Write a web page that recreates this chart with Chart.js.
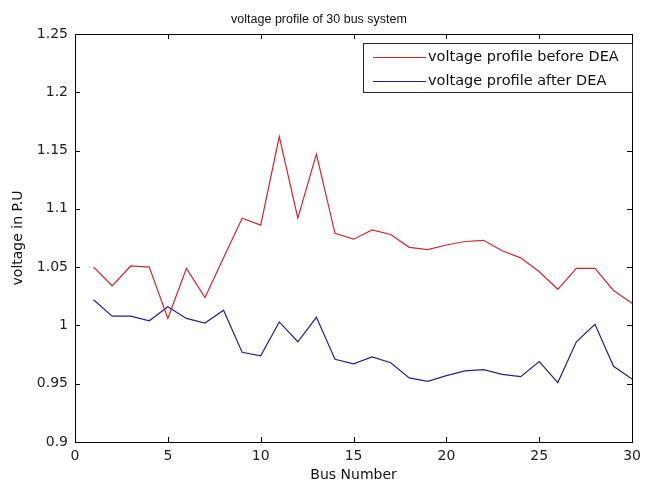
<!DOCTYPE html>
<html>
<head>
<meta charset="utf-8">
<script src="https://cdn.jsdelivr.net/npm/chart.js@4.4.0/dist/chart.umd.min.js"></script>
<style>
  html, body { margin: 0; padding: 0; background: #fff; }
  #wrap { width: 647px; height: 483px; }
</style>
</head>
<body>
<div id="wrap"><canvas id="chart" width="647" height="483"></canvas></div>
<script>
const busNumbers = [1, 2, 3, 4, 5, 6, 7, 8, 9, 10, 11, 12, 13, 14, 15, 16, 17, 18, 19, 20, 21, 22, 23, 24, 25, 26, 27, 28, 29, 30];
const beforeDEA = [1.050, 1.034, 1.051, 1.050, 1.006, 1.049, 1.024, 1.058, 1.092, 1.086, 1.162, 1.092, 1.147, 1.079, 1.074, 1.082, 1.078, 1.067, 1.065, 1.069, 1.072, 1.073, 1.064, 1.058, 1.046, 1.031, 1.049, 1.049, 1.030, 1.019];
const afterDEA = [1.022, 1.008, 1.008, 1.004, 1.016, 1.006, 1.002, 1.013, 0.977, 0.974, 1.003, 0.986, 1.007, 0.971, 0.967, 0.973, 0.968, 0.955, 0.952, 0.957, 0.961, 0.962, 0.958, 0.956, 0.969, 0.951, 0.986, 1.001, 0.965, 0.954];
const xTicks = [0, 5, 10, 15, 20, 25, 30];
const yTicks = [0.9, 0.95, 1, 1.05, 1.1, 1.15, 1.2, 1.25];

const font = "'DejaVu Sans', sans-serif";
const titleFont = "'Liberation Sans', Arial, sans-serif";

// MATLAB-style box with inward ticks plus the legend inside the axes
const matlabBox = {
  id: 'matlabBox',
  afterDraw(chart) {
    const { ctx, chartArea: a, scales } = chart;
    ctx.save();
    ctx.strokeStyle = '#000';
    ctx.lineWidth = 1;
    ctx.strokeRect(Math.round(a.left) + 0.5, Math.round(a.top) + 0.5, Math.round(a.right - a.left), Math.round(a.bottom - a.top));
    const len = 5;
    ctx.beginPath();
    xTicks.forEach(v => {
      const x = Math.round(scales.x.getPixelForValue(v)) + 0.5;
      ctx.moveTo(x, a.bottom); ctx.lineTo(x, a.bottom - len);
      ctx.moveTo(x, a.top); ctx.lineTo(x, a.top + len);
    });
    yTicks.forEach(v => {
      const y = Math.round(scales.y.getPixelForValue(v)) + 0.5;
      ctx.moveTo(a.left, y); ctx.lineTo(a.left + len, y);
      ctx.moveTo(a.right, y); ctx.lineTo(a.right - len, y);
    });
    ctx.stroke();

    // legend
    const lx = 363, ly = 43, lw = 269, lh = 49;
    ctx.fillStyle = '#fff';
    ctx.fillRect(lx, ly, lw, lh);
    ctx.strokeStyle = '#222';
    ctx.strokeRect(lx + 0.5, ly + 0.5, lw, lh);
    ctx.font = '14.5px ' + font;
    ctx.textBaseline = 'middle';
    chart.data.datasets.forEach((ds, i) => {
      const y = ly + 14 + i * 24;
      ctx.strokeStyle = ds.borderColor;
      ctx.beginPath();
      ctx.moveTo(373, y + 0.5); ctx.lineTo(426, y + 0.5);
      ctx.stroke();
      ctx.fillStyle = '#111';
      ctx.fillText(ds.label, 428, y);
    });
    ctx.restore();
  }
};

new Chart(document.getElementById('chart'), {
  type: 'line',
  data: {
    datasets: [
      {
        label: 'voltage profile before DEA',
        data: busNumbers.map((b, i) => ({ x: b, y: beforeDEA[i] })),
        borderColor: 'rgb(205, 40, 50)',
        borderWidth: 1.2,
        pointRadius: 0,
        tension: 0
      },
      {
        label: 'voltage profile after DEA',
        data: busNumbers.map((b, i) => ({ x: b, y: afterDEA[i] })),
        borderColor: 'rgb(35, 35, 140)',
        borderWidth: 1.2,
        pointRadius: 0,
        tension: 0
      }
    ]
  },
  options: {
    responsive: false,
    animation: false,
    layout: { padding: { top: 0, right: 9, bottom: 0, left: 0 } },
    plugins: {
      legend: { display: false },
      tooltip: { enabled: false },
      title: {
        display: true,
        text: 'voltage profile of 30 bus system',
        color: '#111',
        font: { family: titleFont, size: 12.5, weight: 'normal' },
        padding: { top: 12, bottom: 7 }
      }
    },
    scales: {
      x: {
        type: 'linear',
        min: 0,
        max: 30,
        afterBuildTicks: s => { s.ticks = xTicks.map(v => ({ value: v })); },
        afterFit: s => { s.height = 41; },
        grid: { display: false, drawTicks: false },
        border: { display: false },
        ticks: { color: '#222', font: { family: font, size: 14 }, padding: 6, maxRotation: 0, callback: v => String(v) },
        title: { display: true, text: 'Bus Number', color: '#111', font: { family: font, size: 14 }, padding: { top: 0, bottom: -1 } }
      },
      y: {
        min: 0.9,
        max: 1.25,
        afterBuildTicks: s => { s.ticks = yTicks.map(v => ({ value: v })); },
        afterFit: s => { s.width = 75; },
        grid: { display: false, drawTicks: false },
        border: { display: false },
        ticks: { color: '#222', font: { family: font, size: 14 }, padding: 7, callback: v => String(+v.toFixed(2)) },
        title: { display: true, text: 'voltage in P.U', color: '#111', font: { family: font, size: 14 }, padding: { top: 10, bottom: 0 } }
      }
    }
  },
  plugins: [matlabBox]
});
</script>
</body>
</html>
